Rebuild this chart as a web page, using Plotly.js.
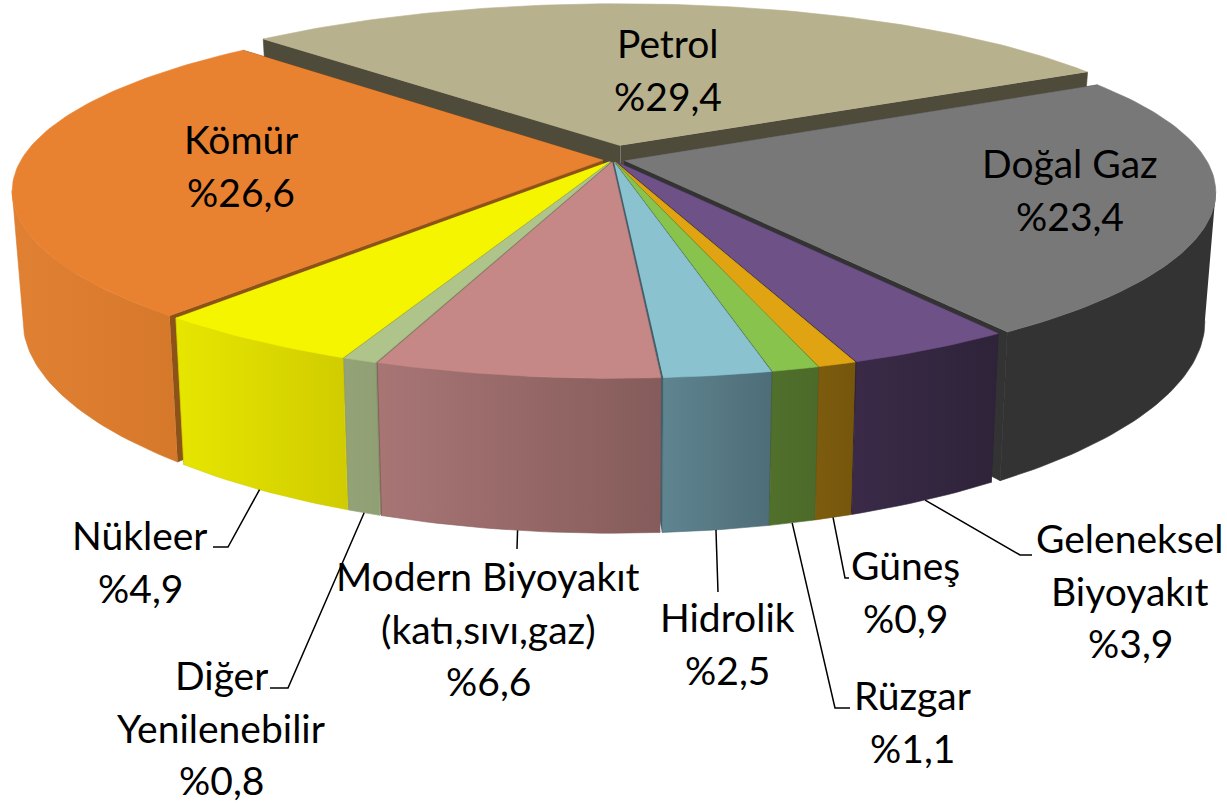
<!DOCTYPE html>
<html><head><meta charset="utf-8">
<script src="https://cdn.plot.ly/plotly-3.0.1.min.js"></script>
<style>html,body{margin:0;padding:0;background:#fff}#c{width:1227px;height:803px}</style>
</head><body><div id="c"></div>
<script>
// ---- data ----
const categories = ['Petrol','Doğal Gaz','Geleneksel Biyoyakıt','Güneş','Rüzgar','Hidrolik','Modern Biyoyakıt (katı,sıvı,gaz)','Diğer Yenilenebilir','Nükleer','Kömür'];
const shares = [29.4,23.4,3.9,0.9,1.1,2.5,6.6,0.8,4.9,26.6];
const labelLines = [['Petrol'],['Doğal Gaz'],['Geleneksel','Biyoyakıt'],['Güneş'],['Rüzgar'],['Hidrolik'],['Modern Biyoyakıt','(katı,sıvı,gaz)'],['Diğer','Yenilenebilir'],['Nükleer'],['Kömür']];
// ---- styles ----
const topColors  = ['#B8B18D','#787878','#6D5187','#E0A412','#88C34E','#8AC2D0','#C68787','#AFC48A','#F5F500','#E98230'];
const wallLeft   = ['#4F4B3B','#333333','#3A2A48','#7D5C0E','#50702C','#5F8590','#A87575','#94A277','#E6E600','#E08033'];
const wallRight  = ['#4F4B3B','#333333','#2E2339','#75560C','#4C6A29','#4E6D78','#855C5B','#90A074','#D0CC00','#D6782A'];
const edgeColors = ['#4F4B3B','#333333','#2A2035','#6E500C','#46622A','#40606C','#7A5555','#85956A','#C8C400','#8D5218'];
const explode    = [0.085,0.02,0.012,0.012,0.012,0.012,0.012,0.012,0.012,0.017];
// label centre for each slice (px), and leader elbow points
const labelPos = [[668,43],[1070,163],[1130,538],[905,565],[912,695],[727,617],[488,576],[221,675],[140,535],[241,139]];
const leaders = [null,null,[[1020,555],[1032,555]],[[845,578],[849,578]],[[835,708],[850,708]],[[718,592]],[[517,549]],[[288,688],[270,688]],[[228,547],[213,547]],null];
const LINE_H = 52.6, FONT = 39;
// ---- projection ----
const cx=613, cy=160, B=582, A=174, k=0.191, kx=0.17, D=125, shrink=0.982, startAngle=-44.1;
const silhouette = 90+Math.asin(kx)*180/Math.PI;   // clock angle where the rim turns away
function proj(u,v,bottom){
  const s=1/(1-k*v), sx=1/(1-kx*v); let x=B*u*sx, y=A*v*s;
  if(bottom){x*=shrink; y+=D*s;}
  return [cx+x, cy+y];
}
const total=shares.reduce((a,b)=>a+b,0);
const traces=[], shapes=[], annotations=[];
let acc=startAngle;
const slices=shares.map((p,i)=>{const a0=acc,a1=acc+p/total*360;acc=a1;
  const mid=(a0+a1)/2, m=mid*Math.PI/180;return {i,a0,a1,mid,um:Math.sin(m),vm:-Math.cos(m),e:explode[i]};});
function pt(sl,t,bottom,r){
  const a=t*Math.PI/180;const R=r===undefined?1:r;
  return proj(R*Math.sin(a)+sl.e*sl.um, -R*Math.cos(a)+sl.e*sl.vm, bottom);
}
function arc(sl,bottom,from,to){const a=from===undefined?sl.a0:from,b=to===undefined?sl.a1:to;
  const n=Math.max(2,Math.ceil(b-a));const o=[];
  for(let j=0;j<=n;j++)o.push(pt(sl,a+(b-a)*j/n,bottom));return o;}
function poly(points,color,grad){
  const t={type:'scatter',mode:'lines',x:points.map(p=>p[0]),y:points.map(p=>p[1]),fill:'toself',
    line:{color:color,width:0.6},hoverinfo:'skip',showlegend:false};
  if(grad){t.fillgradient={type:'horizontal',colorscale:[[0,grad[0]],[1,grad[1]]]};}
  else t.fillcolor=color;
  traces.push(t);
}
slices.slice().sort((a,b)=>Math.abs(b.mid-185)-Math.abs(a.mid-185)).forEach(sl=>{
  const i=sl.i, top=arc(sl,false);
  const apexT=pt(sl,sl.a0,false,0), apexB=pt(sl,sl.a0,true,0);
  const e0=[pt(sl,sl.a0,false),pt(sl,sl.a0,true)], e1=[pt(sl,sl.a1,false),pt(sl,sl.a1,true)];
  poly([apexT,e0[0],e0[1],apexB],edgeColors[i]);
  poly([apexT,e1[0],e1[1],apexB],edgeColors[i]);
  const from=Math.max(sl.a0,silhouette), to=Math.min(sl.a1,360-silhouette);
  if(to>from){
    const wt=arc(sl,false,from,to), wb=arc(sl,true,from,to);
    poly(wt.concat(wb.slice().reverse()),wallRight[i],[wallLeft[i],wallRight[i]]);
  }
  poly([apexT].concat(top),topColors[i]);
});
slices.forEach(sl=>{
  const i=sl.i;
  const lines=labelLines[i].concat(['%'+shares[i].toFixed(1).replace('.',',')]);
  lines.forEach((txt,j)=>annotations.push({x:labelPos[i][0],y:labelPos[i][1]+j*LINE_H,text:txt,showarrow:false,
    height:44,borderpad:0,xanchor:'center',yanchor:'middle',font:{family:'Lato, sans-serif',size:FONT,color:'#000'}}));
  if(leaders[i]){
    const s=pt(sl,sl.mid,true);
    const d=[s].concat(leaders[i]).map((p,j)=>(j?'L':'M')+p[0]+' '+p[1]).join(' ');
    shapes.push({type:'path',path:d,line:{color:'#000',width:1.5},layer:'above'});
  }
});
const layout={width:1227,height:803,margin:{l:0,r:0,t:0,b:0},paper_bgcolor:'#fff',plot_bgcolor:'#fff',showlegend:false,
  xaxis:{range:[0,1227],visible:false,fixedrange:true},yaxis:{range:[803,0],visible:false,fixedrange:true},
  shapes,annotations};
Plotly.newPlot('c',traces,layout,{staticPlot:true,displayModeBar:false});
</script></body></html>
